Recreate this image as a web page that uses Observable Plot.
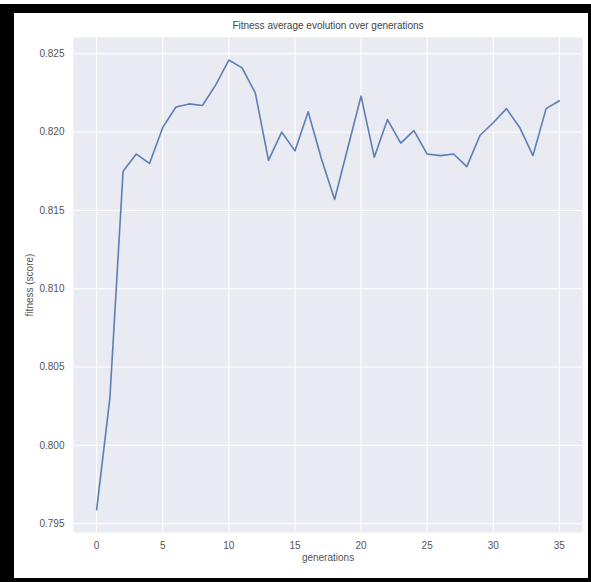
<!DOCTYPE html>
<html>
<head>
<meta charset="utf-8">
<script src="https://cdn.jsdelivr.net/npm/d3@7"></script>
<script src="https://cdn.jsdelivr.net/npm/@observablehq/plot@0.6"></script>
<style>
  html, body { margin: 0; padding: 0; background: #fff; width: 591px; height: 582px; overflow: hidden; }
  #chart { position: absolute; left: 0; top: 0; }
  #frame { position: absolute; left: 0; top: 4px; width: 591px; height: 578px; box-sizing: border-box;
           border-left: 14px solid #000; border-top: 9px solid #000; border-right: 3px solid #000; border-bottom: 4px solid #000;
           pointer-events: none; }
</style>
</head>
<body>
<div id="chart"></div>
<div id="frame"></div>
<script>
const generations = [0,1,2,3,4,5,6,7,8,9,10,11,12,13,14,15,16,17,18,19,20,21,22,23,24,25,26,27,28,29,30,31,32,33,34,35];
const fitness = [0.7959,0.8030,0.8175,0.8186,0.8180,0.8203,0.8216,0.8218,0.8217,0.8230,0.8246,0.8241,0.8225,0.8182,0.8200,0.8188,0.8213,0.8183,0.8157,0.8190,0.8223,0.8184,0.8208,0.8193,0.8201,0.8186,0.8185,0.8186,0.8178,0.8198,0.8206,0.8215,0.8203,0.8185,0.8215,0.8220];
const xTicks = [0,5,10,15,20,25,30,35];
const yTicks = [0.795,0.800,0.805,0.810,0.815,0.820,0.825];
const titleText = "Fitness average evolution over generations";
const xLabel = "generations";
const yLabel = "fitness (score)";

const data = generations.map((g, i) => ({g, v: fitness[i]}));

const plot = Plot.plot({
  width: 591,
  height: 582,
  marginLeft: 73,
  marginRight: 9,
  marginTop: 37,
  marginBottom: 50,
  style: {background: "transparent", fontFamily: "Liberation Sans, Arial, sans-serif", fontSize: "10px", color: "#555"},
  x: {domain: [-1.75, 36.75]},
  y: {domain: [0.79444, 0.82604]},
  marks: [
    Plot.frame({fill: "#eaeaf2", stroke: null}),
    Plot.gridX(xTicks, {stroke: "#fff", strokeOpacity: 1, strokeWidth: 1}),
    Plot.gridY(yTicks, {stroke: "#fff", strokeOpacity: 1, strokeWidth: 1}),
    Plot.axisX({ticks: xTicks, tickSize: 0, tickPadding: 9, label: xLabel, labelAnchor: "center", labelArrow: "none", labelOffset: 28, fill: "#555"}),
    Plot.axisY({ticks: yTicks, tickSize: 0, tickPadding: 9, tickFormat: d3.format(".3f"), label: yLabel, labelAnchor: "center", labelArrow: "none", labelOffset: 48, fill: "#555"}),
    Plot.line(data, {x: "g", y: "v", stroke: "#4c72b0", strokeWidth: 1.6, strokeOpacity: 0.9}),
    Plot.text([titleText], {frameAnchor: "top", dy: -16, text: d => d, fill: "#444", fontSize: 10})
  ]
});
document.getElementById("chart").appendChild(plot);
</script>
</body>
</html>
